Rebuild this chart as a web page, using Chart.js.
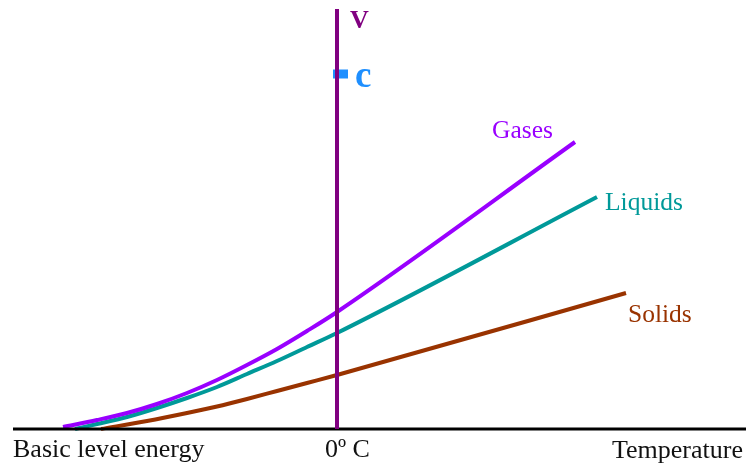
<!DOCTYPE html>
<html lang="en">
<head>
    <meta charset="UTF-8">
    <title>Temperature</title>
    <script src="https://cdn.jsdelivr.net/npm/chart.js"></script>
<style>
    body{margin: 0; background: #fff;}
    #wrap{width: 746px; height: 466px; position: relative;}
</style>
</head>
<body>
    <div id="wrap">
        <canvas id="myChart"></canvas>
    </div>
    <script>
        // x = temperature (0 = 0ºC), y = energy above basic level
        let gasesX = [-274, -240, -210, -180, -150, -120, -90, -60, -30, 0, 238];
        let gasesY = [2, 9, 16, 25, 36, 49, 64, 80, 98, 117, 287];
        let liquidsX = [-262, -240, -210, -180, -150, -120, -90, -60, -30, 0, 260];
        let liquidsY = [0, 5, 12, 21, 31, 42, 55, 68, 82, 96, 232];
        let solidsX = [-236, -190, -150, -120, -90, -60, -30, 0, 289];
        let solidsY = [0, 8, 16, 22.5, 30, 38, 46, 54, 136];
        let vAxisX = [0, 0];
        let vAxisY = [0, 420];
        let cMarkX = [-4, 11];
        let cMarkY = [355, 355];
        let baseX = [-324, 409];
        let baseY = [0, 0];

        let seriesNames = ['Gases', 'Liquids', 'Solids'];
        let axisLabels = ['Basic level energy', '0º C', 'Temperature'];

        function pts(xs, ys){
            let out = [];
            for(let i=0;i<xs.length;i++){
                out.push({x: xs[i], y: ys[i]});
            }
            return out;
        }

        // text anchors in data units
        let textItems = [
            {t: axisLabels[0], x: -324, y: -28, c: '#111', f: '26px "Liberation Serif"'},
            {t: axisLabels[1], x: -12, y: -28, c: '#111', f: '26px "Liberation Serif"'},
            {t: axisLabels[2], x: 275, y: -29, c: '#111', f: '26px "Liberation Serif"'},
            {t: seriesNames[0], x: 155, y: 291, c: '#9900ff', f: '25.5px "Liberation Serif"'},
            {t: seriesNames[1], x: 268, y: 219, c: '#009999', f: '25.5px "Liberation Serif"'},
            {t: seriesNames[2], x: 291, y: 107, c: '#993300', f: '25.5px "Liberation Serif"'},
            {t: 'V', x: 13, y: 401, c: '#800080', f: 'bold 26px "Liberation Serif"'},
            {t: 'c', x: 18, y: 342, c: '#1e8fff', f: 'bold 37px "Liberation Serif"'}
        ];

        const textPlugin = {
            id: 'textPlugin',
            afterDatasetsDraw(chart){
                const ctx = chart.ctx;
                const sx = chart.scales.x;
                const sy = chart.scales.y;
                ctx.save();
                ctx.textAlign = 'left';
                ctx.textBaseline = 'alphabetic';
                textItems.forEach(function(it){
                    ctx.font = it.f;
                    ctx.fillStyle = it.c;
                    ctx.fillText(it.t, sx.getPixelForValue(it.x), sy.getPixelForValue(it.y));
                });
                ctx.restore();
            }
        };

        const ctx = document.getElementById('myChart');
        new Chart(ctx, {
            type: 'line',
            data: {
                datasets: [
                    {label: 'v', data: pts(vAxisX, vAxisY), borderColor: '#800080', borderWidth: 4, order: 0},
                    {label: 'c', data: pts(cMarkX, cMarkY), borderColor: '#1e8fff', borderWidth: 9, order: 0},
                    {label: seriesNames[0], data: pts(gasesX, gasesY), borderColor: '#9900ff', borderWidth: 4, cubicInterpolationMode: 'monotone', order: 2},
                    {label: seriesNames[1], data: pts(liquidsX, liquidsY), borderColor: '#009999', borderWidth: 4, cubicInterpolationMode: 'monotone', order: 3},
                    {label: seriesNames[2], data: pts(solidsX, solidsY), borderColor: '#993300', borderWidth: 4, cubicInterpolationMode: 'monotone', order: 4},
                    {label: 'base', data: pts(baseX, baseY), borderColor: '#000', borderWidth: 3, order: 1}
                ]
            },
            options: {
                responsive: true,
                maintainAspectRatio: false,
                animation: false,
                layout: {padding: {left: 13, right: 0, top: 9, bottom: 32}},
                elements: {point: {radius: 0}, line: {fill: false}},
                plugins: {legend: {display: false}, tooltip: {enabled: false}},
                scales: {
                    x: {type: 'linear', min: -324, max: 409, display: false},
                    y: {type: 'linear', min: -5, max: 420, display: false}
                }
            },
            plugins: [textPlugin]
        });
    </script>
</body>
</html>
